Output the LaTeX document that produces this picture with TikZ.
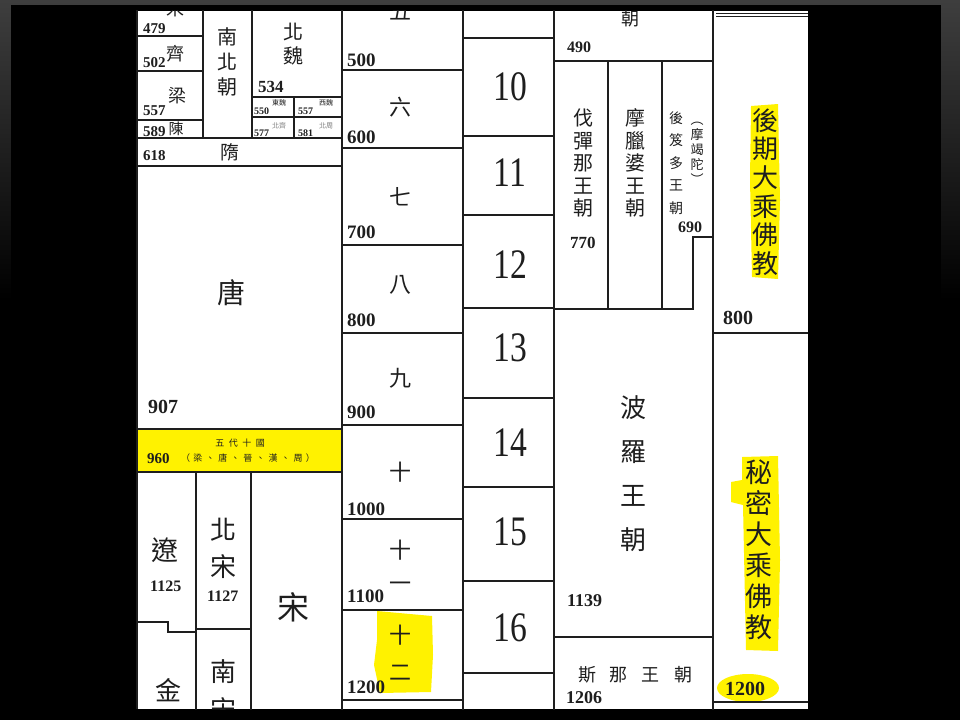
\documentclass[tikz,border=0pt]{standalone}
\usepackage{fontspec}
\usepackage{graphicx}
\setmainfont{Liberation Serif}
\newfontfamily\cjk{Noto Sans CJK TC}
\definecolor{hl}{RGB}{255,242,0}
\definecolor{framegray}{RGB}{62,62,62}
\definecolor{ink}{RGB}{30,30,30}
\newcommand\gpA{\hspace{4.5pt}}
\newcommand\gpB{\hspace{3.5pt}}
\newcommand\gpC{\hspace{14pt}}
\begin{document}
\begin{tikzpicture}[x=1pt,y=-1pt,
  grid/.style={line width=1.6pt, draw=ink, line cap=rect},
  yr/.style={font=\bfseries\fontsize{#1}{#1}\selectfont, anchor=base west, inner sep=0pt, text=ink},
  cj/.style={font=\cjk\fontsize{#1}{#1}\selectfont, inner sep=0pt, text=ink},
  vcj/.style 2 args={font=\cjk\fontsize{#1}{#2}\selectfont, align=center, inner sep=0pt, text=ink},
  big/.style={font=\fontsize{42}{42}\selectfont, inner sep=0pt, text=ink}]
\useasboundingbox (0,0) rectangle (960,720);
\fill[black] (0,0) rectangle (960,720);
\fill[top color=framegray, bottom color=black] (0,0) rectangle (960,300);
\fill[black] (11,5) rectangle (941,720);
\begin{scope}
\clip (136,10.5) rectangle (808,709);
\fill[white] (136,10.5) rectangle (808,709);
% highlights
\fill[hl] (751,106) -- (778,104) -- (780,200) -- (778,279) -- (752,277) -- (750,180) -- cycle;
\fill[hl] (742,457) -- (778,456) -- (780,560) -- (778,651) -- (746,650) -- (743,505) -- (731,502) -- (731,482) -- (742,480) -- cycle;
\fill[hl] (748,688) ellipse [x radius=31, y radius=14];
\fill[hl] (377,611) -- (432,616) -- (433,655) -- (431,692) -- (380,693) -- (374,665) -- (377,640) -- cycle;
\fill[hl] (138,429) rectangle (342,472);
% lines
\draw[line width=2.6pt, draw=ink] (137,10) -- (137,709);
\draw[grid] (203,10) -- (203,138);
\draw[grid] (252,10) -- (252,138);
\draw[grid] (294,97) -- (294,138);
\draw[grid] (342,10) -- (342,709);
\draw[grid] (463,10) -- (463,709);
\draw[grid] (554,10) -- (554,709);
\draw[grid] (713,10) -- (713,709);
\draw[grid] (196,472) -- (196,709);
\draw[grid] (251,472) -- (251,709);
\draw[grid] (608,61) -- (608,309);
\draw[grid] (662,61) -- (662,309);
\draw[grid] (693,309) -- (693,237) -- (713,237);
\foreach \yy in {36,71,120} \draw[grid] (138,\yy) -- (203,\yy);
\foreach \yy in {97,117} \draw[grid] (252,\yy) -- (342,\yy);
\foreach \yy in {138,166,429,472} \draw[grid] (138,\yy) -- (342,\yy);
\draw[grid] (138,622) -- (168,622) -- (168,632) -- (196,632);
\draw[grid] (196,629) -- (251,629);
\foreach \yy in {70,148,245,333,425,519,610,700} \draw[grid] (342,\yy) -- (463,\yy);
\foreach \yy in {38,136,215,308,398,487,581,673} \draw[grid] (463,\yy) -- (554,\yy);
\draw[grid] (554,61) -- (713,61);
\draw[grid] (554,309) -- (693,309);
\draw[grid] (554,637) -- (713,637);
\draw[line width=1.2pt, draw=ink] (716,13.5) -- (808,13.5);
\draw[line width=1.2pt, draw=ink] (716,16.5) -- (808,16.5);
\draw[grid] (713,333) -- (808,333);
\draw[grid] (713,702) -- (808,702);
% left small column
\node[cj=18] (song0) at (175,9) {宋};
\node[yr=15] (y479) at (143,33) {479};
\node[yr=15] (y502) at (143,67) {502};
\node[cj=18] (qi) at (175,54) {齊};
\node[yr=15] (y557a) at (143,115) {557};
\node[cj=18] (liang) at (177,96) {梁};
\node[yr=15] (y589) at (143,136) {589};
\node[cj=15] (chen) at (176,129) {陳};
\node[vcj={20}{25}] (nbc) at (227,62) {南\\北\\朝};
\node[vcj={20}{24}] (beiwei) at (293,44) {北\\魏};
\node[yr=17] (y534) at (258,92) {534};
\node[yr=10] (y550) at (254,114) {550};
\node[cj=7] (dongwei) at (279,103) {東魏};
\node[yr=10] (y557b) at (298,114) {557};
\node[cj=7] (xiwei) at (326,103) {西魏};
\node[yr=10] (y577) at (254,136) {577};
\node[cj=7, text=gray] (beiqi) at (279,126) {北齊};
\node[yr=10] (y581) at (298,136) {581};
\node[cj=7, text=gray] (beizhou) at (326,126) {北周};
\node[yr=15] (y618) at (143,160) {618};
\node[cj=19] (sui) at (230,152) {隋};
\node[cj=28] (tang) at (231,293) {唐};
\node[yr=20] (y907) at (148,413) {907};
\node[cj=9] (wudai) at (240,443) {五\gpA 代\gpA 十\gpA 國};
\node[yr=15] (y960) at (147,463) {960};
\node[cj=9] (wudai2) at (248,458) {（\gpB 梁\gpB 、\gpB 唐\gpB 、\gpB 晉\gpB 、\gpB 漢\gpB 、\gpB 周\gpB ）};
\node[cj=27] (liao) at (165,550) {遼};
\node[yr=16] (y1125) at (150,591) {1125};
\node[vcj={26}{37}] (beisong) at (223,548) {北\\宋};
\node[yr=16] (y1127) at (207,601) {1127};
\node[cj=32] (song) at (293,607) {宋};
\node[cj=26] (jin) at (168,690) {金};
\node[vcj={26}{38}] (nansong) at (223,691) {南\\宋};
% century column
\node[cj=22] (c5) at (400,12) {五};
\node[yr=19] (y500) at (347,66) {500};
\node[cj=22] (c6) at (400,107) {六};
\node[yr=19] (y600) at (347,143) {600};
\node[cj=22] (c7) at (400,197) {七};
\node[yr=19] (y700) at (347,238) {700};
\node[cj=22] (c8) at (400,285) {八};
\node[yr=19] (y800) at (347,326) {800};
\node[cj=22] (c9) at (400,378) {九};
\node[yr=19] (y900) at (347,418) {900};
\node[cj=22] (c10) at (400,472) {十};
\node[yr=19] (y1000) at (347,515) {1000};
\node[vcj={22}{33}] (c11) at (400,566) {十\\一};
\node[yr=19] (y1100) at (347,602) {1100};
\node[vcj={22}{37}] (c12) at (400,653) {十\\二};
\node[yr=19] (y1200) at (347,693) {1200};
% number column
\node[big] (n10) at (510,87) {\scalebox{0.8}[1]{10}};
\node[big] (n11) at (510,173) {\scalebox{0.8}[1]{11}};
\node[big] (n12) at (510,265) {\scalebox{0.8}[1]{12}};
\node[big] (n13) at (510,348) {\scalebox{0.8}[1]{13}};
\node[big] (n14) at (510,443) {\scalebox{0.8}[1]{14}};
\node[big] (n15) at (510,532) {\scalebox{0.8}[1]{15}};
\node[big] (n16) at (510,628) {\scalebox{0.8}[1]{16}};
% India column
\node[cj=18] (chao) at (630,19) {朝};
\node[yr=16] (y490) at (567,52) {490};
\node[vcj={20}{22.5}] (fa) at (583,163) {伐\\彈\\那\\王\\朝};
\node[vcj={20}{22.5}] (mola) at (635,163) {摩\\臘\\婆\\王\\朝};
\node[vcj={14}{22.5}] (houji) at (676,163) {後\\笈\\多\\王\\朝};
\node[vcj={13}{15}] (mojie) at (697,153) {︵\\摩\\竭\\陀\\︶};
\node[yr=17] (y770) at (570,248) {770};
\node[yr=16] (y690) at (678,232) {690};
\node[vcj={26}{44}] (boluo) at (633,474) {波\\羅\\王\\朝};
\node[yr=18] (y1139) at (567,606) {1139};
\node[cj=18] (sina) at (635,675) {斯\gpC 那\gpC 王\gpC 朝};
\node[yr=18] (y1206) at (566,703) {1206};
% Buddhism column
\node[vcj={26}{28.7}] (late) at (765,192) {後\\期\\大\\乘\\佛\\教};
\node[yr=20] (b800) at (723,324) {800};
\node[vcj={27}{31}] (tantra) at (759,550) {秘\\密\\大\\乘\\佛\\教};
\node[yr=20] (b1200) at (725,695) {1200};
\end{scope}
\end{tikzpicture}
\end{document}
